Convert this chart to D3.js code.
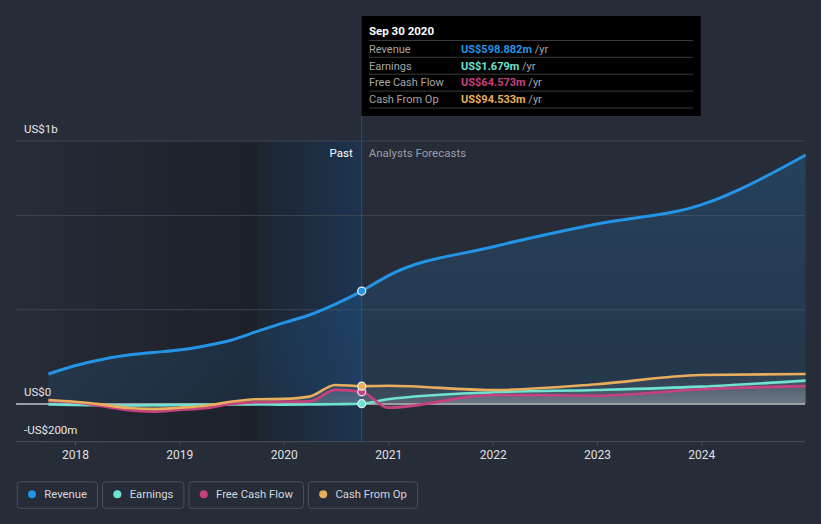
<!DOCTYPE html>
<html><head><meta charset="utf-8">
<script src="https://cdn.jsdelivr.net/npm/d3@7"></script>
<style>
html,body{margin:0;padding:0;background:#262c38;}
svg{display:block;font-family:Roboto,"Noto Sans",sans-serif;}
</style></head>
<body><svg id="c" width="821" height="524"></svg>
<script>
// ---- data (US$ millions) ----
const pastDates = ["2017-09-30","2017-12-31","2018-03-31","2018-06-30","2018-09-30","2018-12-31","2019-03-31","2019-06-30","2019-09-30","2019-12-31","2020-03-31","2020-06-30","2020-09-30"];
const revenuePast = [159,203,235,258,273,286,308,338,385,430,472,530,598.882];
const earningsPast = [-2,-5,-7,-8,-7,-5,-4,-3,-2,-4,-3,-1,1.679];
const fcfPast = [16,9,-11,-32,-41,-32,-23,0,9,12,14,75,64.573];
const cfoPast = [21,12,-2,-20,-27,-20,-9,12,25,27,39,101,94.533];

const forecastDates = ["2020-09-30","2020-12-31","2021-12-31","2022-12-31","2023-12-31","2024-12-31"];
const revenueFc = [598.882,680,833,955,1056,1321];
const earningsFc = [1.679,25,62,74,92,124];
const fcfFc = [64.573,-20,48,44,78,95];
const cfoFc = [94.533,97,74,105,154,159];

const seriesNames = ["Revenue","Earnings","Free Cash Flow","Cash From Op"];
const seriesColors = ["#2394e6","#6fe3d0","#c8417f","#e9ae5c"];
const tooltipTitle = "Sep 30 2020";
const tooltipValues = ["US$598.882m","US$1.679m","US$64.573m","US$94.533m"];
const yearTicks = ["2018","2019","2020","2021","2022","2023","2024"];
const yLabels = [{v:1395,t:"US$1b"},{v:0,t:"US$0"},{v:-200,t:"-US$200m"}];
const gridValues = [500,1000,1395];
const nowDate = "2020-09-30";
const highlightStart = "2019-09-30";

// ---- setup ----
const svg = d3.select("#c");
const L = 16, R = 805, TOP = 141, BOT = 441.7;
const parse = d3.timeParse("%Y-%m-%d");
const x = d3.scaleTime().domain([new Date(2018,0,1), new Date(2024,0,1)]).range([75, 701.3]);
const y = d3.scaleLinear().domain([-200,1395]).range([BOT, TOP]);

const defs = svg.append("defs");
const gPast = defs.append("linearGradient").attr("id","gPast").attr("x1",0).attr("x2",1).attr("y1",0).attr("y2",0);
gPast.append("stop").attr("offset","0%").attr("stop-color","#000").attr("stop-opacity",0.0);
gPast.append("stop").attr("offset","100%").attr("stop-color","#000").attr("stop-opacity",0.28);
const gHi = defs.append("linearGradient").attr("id","gHi").attr("x1",0).attr("x2",1).attr("y1",0).attr("y2",0);
gHi.append("stop").attr("offset","0%").attr("stop-color","#1f6fd0").attr("stop-opacity",0.04);
gHi.append("stop").attr("offset","100%").attr("stop-color","#1f6fd0").attr("stop-opacity",0.24);
const gRev = defs.append("linearGradient").attr("id","gRev").attr("gradientUnits","userSpaceOnUse").attr("x1",0).attr("x2",0).attr("y1",150).attr("y2",404);
gRev.append("stop").attr("offset","0%").attr("stop-color","#2394e6").attr("stop-opacity",0.2);
gRev.append("stop").attr("offset","100%").attr("stop-color","#2394e6").attr("stop-opacity",0.1);
const gOther = defs.append("linearGradient").attr("id","gOther").attr("gradientUnits","userSpaceOnUse").attr("x1",0).attr("x2",0).attr("y1",372).attr("y2",404);
gOther.append("stop").attr("offset","0%").attr("stop-color","#ffffff").attr("stop-opacity",0.04);
gOther.append("stop").attr("offset","100%").attr("stop-color","#ffffff").attr("stop-opacity",0.12);

const xNow = x(parse(nowDate)), xHi = x(parse(highlightStart));
// past shading
svg.append("rect").attr("x",L).attr("y",TOP).attr("width",xHi-L).attr("height",BOT-TOP).attr("fill","url(#gPast)");
svg.append("rect").attr("x",xHi).attr("y",TOP).attr("width",xNow-xHi).attr("height",BOT-TOP).attr("fill","#1d2129");
svg.append("rect").attr("x",xHi).attr("y",TOP).attr("width",xNow-xHi).attr("height",BOT-TOP).attr("fill","url(#gHi)");

// grid
svg.selectAll("line.grid").data(gridValues).join("line").attr("class","grid")
  .attr("x1",L).attr("x2",R).attr("y1",d=>y(d)).attr("y2",d=>y(d))
  .attr("stroke","#3c4350").attr("stroke-width",1);

// axis
const xAxis = d3.axisBottom(x).tickValues(yearTicks.map(t=>new Date(+t,0,1))).tickFormat(d3.timeFormat("%Y")).tickSize(4).tickPadding(5);
const ax = svg.append("g").attr("transform",`translate(0,${BOT})`).call(xAxis);
ax.select(".domain").remove();
ax.selectAll(".tick line").attr("stroke","#4a505c");
ax.selectAll(".tick text").attr("fill","#e0e0e0").attr("font-size",12).attr("font-family","Roboto,sans-serif");
svg.append("line").attr("x1",L).attr("x2",R).attr("y1",BOT).attr("y2",BOT).attr("stroke","#4a505c").attr("stroke-width",1);

// y labels
svg.selectAll("text.yl").data(yLabels).join("text").attr("class","yl")
  .attr("x",24).attr("y",d=>y(d.v)-8).attr("fill","#e6e6e6").attr("font-size",11.5).text(d=>d.t);

// series data
const mk = (dates, vals) => dates.map((d,i)=>({date:parse(d), v:vals[i]}));
const series = [
  mk(pastDates,revenuePast).concat(mk(forecastDates,revenueFc).slice(1)),
  mk(pastDates,earningsPast).concat(mk(forecastDates,earningsFc).slice(1)),
  mk(pastDates,fcfPast).concat(mk(forecastDates,fcfFc).slice(1)),
  mk(pastDates,cfoPast).concat(mk(forecastDates,cfoFc).slice(1))
];
const line = d3.line().x(d=>x(d.date)).y(d=>y(d.v)).curve(d3.curveMonotoneX);
const area = d3.area().x(d=>x(d.date)).y0(y(0)).y1(d=>y(d.v)).curve(d3.curveMonotoneX);

svg.append("path").datum(series[0]).attr("d",area).attr("fill","url(#gRev)");
[3,2,1].forEach(i=>svg.append("path").datum(series[i]).attr("d",area).attr("fill","url(#gOther)"));

// zero line
svg.append("line").attr("x1",L).attr("x2",R).attr("y1",y(0)).attr("y2",y(0)).attr("stroke","#9a9da3").attr("stroke-width",2);

// vertical now line
svg.append("line").attr("x1",xNow).attr("x2",xNow).attr("y1",116).attr("y2",BOT).attr("stroke","#2c5a8c").attr("stroke-width",1).attr("stroke-opacity",0.8);

[1,2,3,0].forEach(i=>svg.append("path").datum(series[i]).attr("d",line).attr("fill","none")
  .attr("stroke",seriesColors[i]).attr("stroke-width",i===0?3:2.6).attr("stroke-linejoin","round"));

// markers
const nowVals = [revenuePast,earningsPast,fcfPast,cfoPast].map(a=>a[a.length-1]);
[1,2,3,0].forEach(i=>svg.append("circle").attr("cx",xNow).attr("cy",y(nowVals[i])).attr("r",4)
  .attr("fill",seriesColors[i]).attr("stroke","#e8eef5").attr("stroke-width",1.2));

// past/forecast labels
svg.append("text").attr("x",xNow-9).attr("y",157).attr("text-anchor","end").attr("fill","#ffffff").attr("font-size",11.5).text("Past");
svg.append("text").attr("x",xNow+7).attr("y",157).attr("fill","#9a9ea6").attr("font-size",11.5).text("Analysts Forecasts");

// tooltip
const tt = svg.append("g");
tt.append("rect").attr("x",xNow).attr("y",16).attr("width",339).attr("height",100).attr("fill","#000");
tt.append("text").attr("x",369).attr("y",35).attr("fill","#fff").attr("font-size",11.5).attr("font-weight","bold").text(tooltipTitle);
const rowY = [40.5,57.3,74.2,91.1,108];
rowY.forEach(yy=>tt.append("line").attr("x1",369).attr("x2",693).attr("y1",yy).attr("y2",yy).attr("stroke","#3a3a3a").attr("stroke-width",1));
seriesNames.forEach((n,i)=>{
  const by = rowY[i]+12.2;
  tt.append("text").attr("x",369).attr("y",by).attr("fill","#a6a6a6").attr("font-size",11).text(n);
  const t = tt.append("text").attr("x",461).attr("y",by).attr("font-size",11);
  t.append("tspan").attr("fill",seriesColors[i]).attr("font-weight","bold").text(tooltipValues[i]);
  t.append("tspan").attr("fill","#a6a6a6").text(" /yr");
});

// legend
let lx = 16.7;
seriesNames.forEach((n,i)=>{
  const g = svg.append("g").attr("transform",`translate(${lx},481.3)`);
  const txt = g.append("text").attr("x",27.6).attr("y",17).attr("fill","#d4d7dc").attr("font-size",11.3).text(n);
  const w = txt.node().getComputedTextLength() + 27.6 + 10;
  g.insert("rect","text").attr("x",0.5).attr("y",0.5).attr("width",w).attr("height",26.5).attr("rx",3)
    .attr("fill","none").attr("stroke","#4a505c").attr("stroke-width",1);
  g.append("circle").attr("cx",15.3).attr("cy",13).attr("r",4).attr("fill",seriesColors[i]);
  lx += w + 5;
});
</script></body></html>
